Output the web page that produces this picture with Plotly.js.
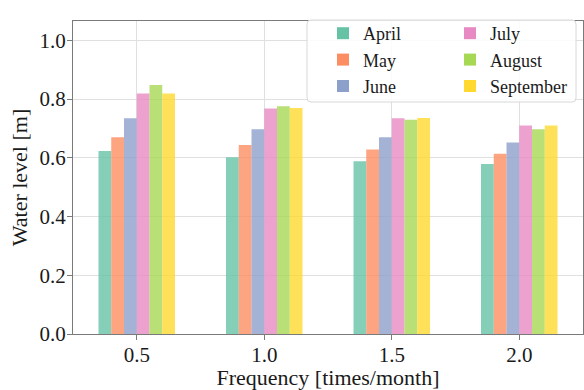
<!DOCTYPE html>
<html>
<head>
<meta charset="utf-8">
<script src="https://cdn.plot.ly/plotly-3.0.1.min.js"></script>
<style>html,body{margin:0;padding:0;background:#fff;}#chart{width:584px;height:390px;}</style>
</head>
<body>
<div id="chart"></div>
<script>
const frequencies = [0.5, 1.0, 1.5, 2.0];
const frequencyLabels = ["0.5", "1.0", "1.5", "2.0"];
const months = ["April", "May", "June", "July", "August", "September"];
const april     = [0.623, 0.602, 0.588, 0.579];
const may       = [0.670, 0.644, 0.628, 0.614];
const june      = [0.735, 0.697, 0.670, 0.652];
const july      = [0.819, 0.768, 0.735, 0.710];
const august    = [0.848, 0.776, 0.730, 0.697];
const september = [0.819, 0.770, 0.736, 0.710];
const yTickVals = [0, 0.2, 0.4, 0.6, 0.8, 1.0];
const yTickLabels = ["0.0", "0.2", "0.4", "0.6", "0.8", "1.0"];
const seriesValues = [april, may, june, july, august, september];
const colors = ["#66c2a5", "#fc8d62", "#8da0cb", "#e78ac3", "#a6d854", "#ffd92f"];
const legendIds = ["legend", "legend", "legend", "legend2", "legend2", "legend2"];

const traces = months.map((m, i) => ({
  type: "bar",
  name: m,
  x: frequencies,
  y: seriesValues[i],
  marker: {color: colors[i], opacity: 0.8, line: {width: 0}},
  legend: legendIds[i]
}));

const font = "'Liberation Serif', 'Times New Roman', Times, serif";
const txt = "#1a1a1a";

// plot area: left 73, right 583, top 21, bottom 334
const W = 510, H = 313;
const bx0 = (307 - 73) / W, bx1 = (576 - 73) / W;
const by1 = 1 - (20 - 21) / H, by0 = 1 - (102 - 21) / H;
const rx = 4 / W, ry = 4 / H;
const boxPath = `M${bx0 + rx},${by0} L${bx1 - rx},${by0} Q${bx1},${by0} ${bx1},${by0 + ry} ` +
  `L${bx1},${by1 - ry} Q${bx1},${by1} ${bx1 - rx},${by1} L${bx0 + rx},${by1} ` +
  `Q${bx0},${by1} ${bx0},${by1 - ry} L${bx0},${by0 + ry} Q${bx0},${by0} ${bx0 + rx},${by0} Z`;

const legendCommon = {
  orientation: "v",
  xref: "paper", yref: "paper",
  xanchor: "left", yanchor: "top",
  bgcolor: "rgba(0,0,0,0)", borderwidth: 0,
  font: {size: 18, family: font, color: txt},
  traceorder: "normal",
  itemclick: false, itemdoubleclick: false
};

const layout = {
  width: 584, height: 390,
  margin: {l: 73, r: 1, t: 21, b: 56},
  paper_bgcolor: "#fff", plot_bgcolor: "#fff",
  barmode: "group", bargap: 0.4, bargroupgap: 0,
  font: {family: font, color: txt, size: 22},
  xaxis: {
    range: [0.25, 2.25],
    tickvals: frequencies, ticktext: frequencyLabels,
    showgrid: true, gridcolor: "#e0e0e0", gridwidth: 1,
    showline: true, mirror: true, linecolor: "#7a7a7a", linewidth: 1,
    ticks: "outside", ticklen: 5, tickcolor: "#7a7a7a",
    ticklabelstandoff: -3,
    zeroline: false,
    tickfont: {size: 21, family: font, color: txt},
    title: {text: "Frequency [times/month]", font: {size: 22, family: font, color: txt}, standoff: 0}
  },
  yaxis: {
    range: [0, 1.066],
    tickvals: yTickVals, ticktext: yTickLabels,
    showgrid: true, gridcolor: "#e0e0e0", gridwidth: 1,
    showline: true, mirror: true, linecolor: "#7a7a7a", linewidth: 1,
    ticks: "outside", ticklen: 5, tickcolor: "#7a7a7a",
    ticklabelstandoff: -3,
    zeroline: false,
    tickfont: {size: 21, family: font, color: txt},
    title: {text: "Water level [m]", font: {size: 22, family: font, color: txt}, standoff: 5}
  },
  showlegend: true,
  legend: Object.assign({}, legendCommon, {x: (323 - 73) / W, y: 1 + 6 / H}),
  legend2: Object.assign({}, legendCommon, {x: (450 - 73) / W, y: 1 + 6 / H}),
  shapes: [{
    type: "path", xref: "paper", yref: "paper", path: boxPath,
    fillcolor: "rgba(255,255,255,0.85)", line: {color: "#d8d8d8", width: 1}, layer: "above"
  }]
};

Plotly.newPlot("chart", traces, layout, {displayModeBar: false, staticPlot: true});
</script>
</body>
</html>
